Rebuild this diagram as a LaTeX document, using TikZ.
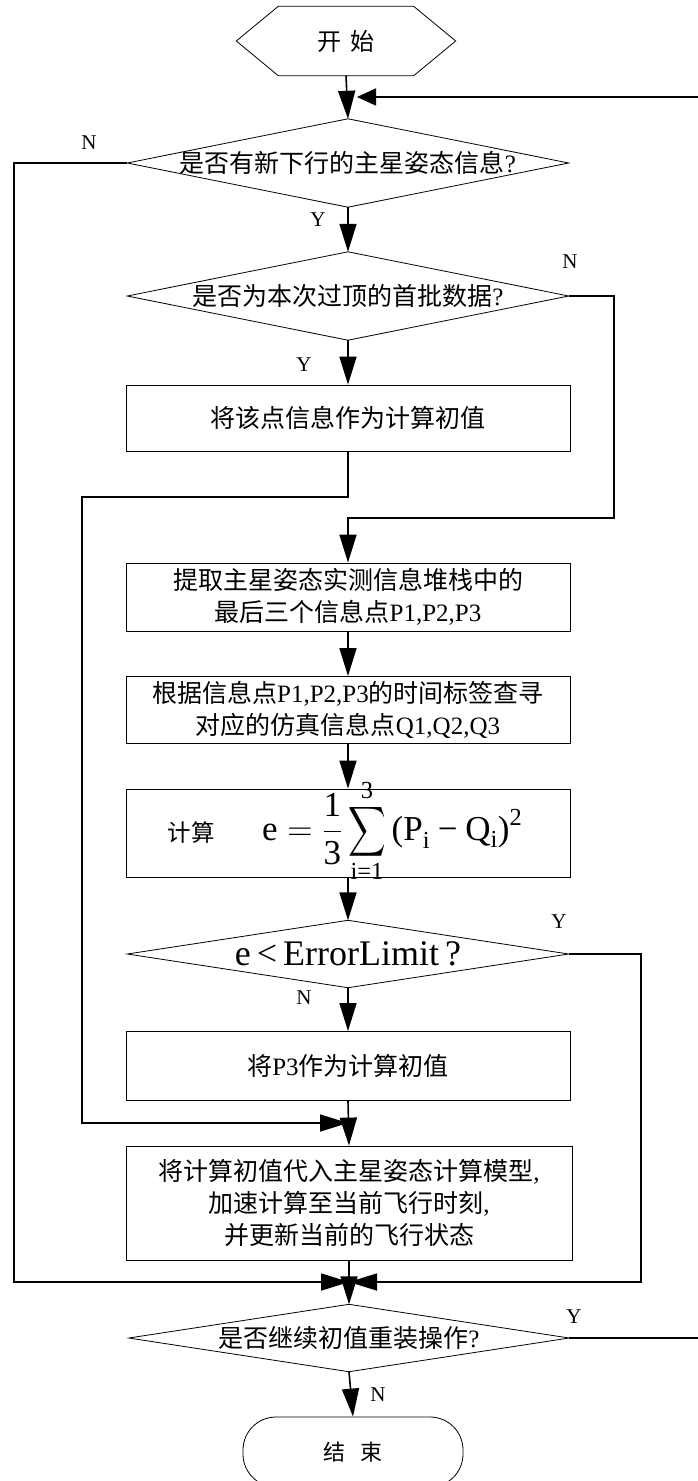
\RequirePackage{fix-cm}
\documentclass[tikz,border=0pt]{standalone}
\usepackage{exscale}
\usepackage{amsmath}
\usepackage{graphicx}
\usepackage{fontspec}
\setmainfont{Liberation Serif}
\newfontfamily\cjk{Noto Sans CJK SC}
\usetikzlibrary{arrows.meta,calc}
\newcommand\fsz[2]{\fontsize{#1pt}{#2pt}\selectfont}
\newcommand\bigsigma{\mathop{\vcenter{\hbox{\scalebox{1.05}[1.4]{$\displaystyle\sum$}}}}\limits}
\begin{document}
\begin{tikzpicture}[x=1pt,y=-1pt,
  shp/.style={draw=black, line width=0.8pt},
  plain/.style={rectangle, inner sep=0pt, align=center},
  box/.style={shp, rectangle, inner sep=0pt, align=center, minimum width=444pt, font=\fsz{25}{32}},
  dia/.style={plain, minimum width=441pt, font=\fsz{25}{30}},
  line/.style={line width=1.6pt},
  conn/.style={line width=1.6pt, -{Triangle[length=28pt,width=17pt]}},
  connshort/.style={line width=1.6pt, -{Triangle[length=19pt,width=17pt]}},
  lbl/.style={inner sep=0pt, font=\fsz{21}{24}}
]
\useasboundingbox (0,0) rectangle (698,1481);
\clip (0,0) rectangle (698,1481);
\fill[white] (0,0) rectangle (698,1481);

% start hexagon
\node[plain, minimum width=219pt, minimum height=69pt, font=\cjk\fsz{24}{28}] (start) at (346,41) {开\hspace{9pt}始};
\draw[shp] (start.west) -- ($(start.north west)+(42,0)$) -- ($(start.north east)+(-42,0)$) -- (start.east)
  -- ($(start.south east)+(-42,0)$) -- ($(start.south west)+(42,0)$) -- cycle;

% decision 1
\node[dia, minimum height=88pt] (d1) at (348,163) {{\cjk 是否有新下行的主星姿态信息}?};
\draw[shp] (d1.north) -- (d1.east) -- (d1.south) -- (d1.west) -- cycle;

% decision 2
\node[dia, minimum height=88pt] (d2) at (348,296) {{\cjk 是否为本次过顶的首批数据}?};
\draw[shp] (d2.north) -- (d2.east) -- (d2.south) -- (d2.west) -- cycle;

% boxes
\node[box, minimum height=66pt] (b1) at (348,418) {\cjk 将该点信息作为计算初值};
\node[box, minimum height=68pt] (b2) at (348,597) {{\cjk 提取主星姿态实测信息堆栈中的}\\{\cjk 最后三个信息点}P1,P2,P3};
\node[box, minimum height=67pt] (b3) at (348,710) {{\cjk 根据信息点}P1,P2,P3{\cjk 的时间标签查寻}\\{\cjk 对应的仿真信息点}Q1,Q2,Q3};
\node[box, minimum height=88pt] (b4) at (348,833) {};
\node[plain, font=\cjk\fsz{23.5}{28}] (calc) at (191,833) {计算};
\node[plain, anchor=west, font=\fsz{35}{40}] (formula) at (262,831) {$\displaystyle \text{e}=\frac{\text{1}}{\text{3}}\bigsigma_{\text{i=1}}^{\text{3}}\text{(P}_{\text{i}}\mathbin{\text{−}}\text{Q}_{\text{i}}\text{)}^{\text{2}}$};

% decision 3
\node[dia, minimum height=67pt, font=\fsz{36}{40}] (d3) at (348,954) {e\,<\,ErrorLimit\,?};
\draw[shp] (d3.north) -- (d3.east) -- (d3.south) -- (d3.west) -- cycle;

\node[box, minimum height=69pt] (b5) at (348,1066) {{\cjk 将}P3{\cjk 作为计算初值}};
\node[box, minimum height=114pt, minimum width=446pt] (b6) at (349,1203) {{\cjk 将计算初值代入主星姿态计算模型},\\{\cjk 加速计算至当前飞行时刻},\\{\cjk 并更新当前的飞行状态}};

% decision 4
\node[dia, minimum height=67pt, minimum width=440pt] (d4) at (349,1338) {{\cjk 是否继续初值重装操作}?};
\draw[shp] (d4.north) -- (d4.east) -- (d4.south) -- (d4.west) -- cycle;

% end
\node[shp, rectangle, rounded corners=33pt, minimum width=220pt, minimum height=70pt, inner sep=0pt, font=\cjk\fsz{22}{26}] (end) at (353,1452) {结\hspace{16pt}束};

% merge points
\coordinate (mT) at (357,97);
\coordinate (mA) at (348,1123);
\coordinate (mB) at (349,1282);

% connectors
\draw[conn] (start.south) -- (d1.north);
\draw[connshort] (d4.east) -- (706,1338) -- (706,97) -- (mT);
\draw[conn] (d1.west) -- (14,163) -- (14,1282) -- (mB);
\draw[conn] (d1.south) -- (d2.north);
\draw[conn] (d2.south) -- (b1.north);
\draw[conn] (d2.east) -- (614,296) -- (614,518) -- (348,518) -- (b2.north);
\draw[conn] (b1.south) -- (348,497) -- (82,497) -- (82,1123) -- (mA);
\draw[conn] (b2.south) -- (b3.north);
\draw[conn] (b3.south) -- (b4.north);
\draw[conn] (b4.south) -- (d3.north);
\draw[conn] (d3.south) -- (b5.north);
\draw[conn] (d3.east) -- (641,954) -- (641,1282) -- (mB);
\draw[conn] (b5.south) -- (b6.north);
\draw[conn] (b6.south) -- (d4.north);
\draw[conn] (d4.south) -- (end.north);

% labels
\node[lbl] (n1) at (89,143) {N};
\node[lbl] (y1) at (318,220) {Y};
\node[lbl] (n2) at (570,262) {N};
\node[lbl] (y2) at (304,365) {Y};
\node[lbl] (y3) at (559,922) {Y};
\node[lbl] (n3) at (304,998) {N};
\node[lbl] (y4) at (574,1317) {Y};
\node[lbl] (n4) at (378,1395) {N};
\end{tikzpicture}
\end{document}
